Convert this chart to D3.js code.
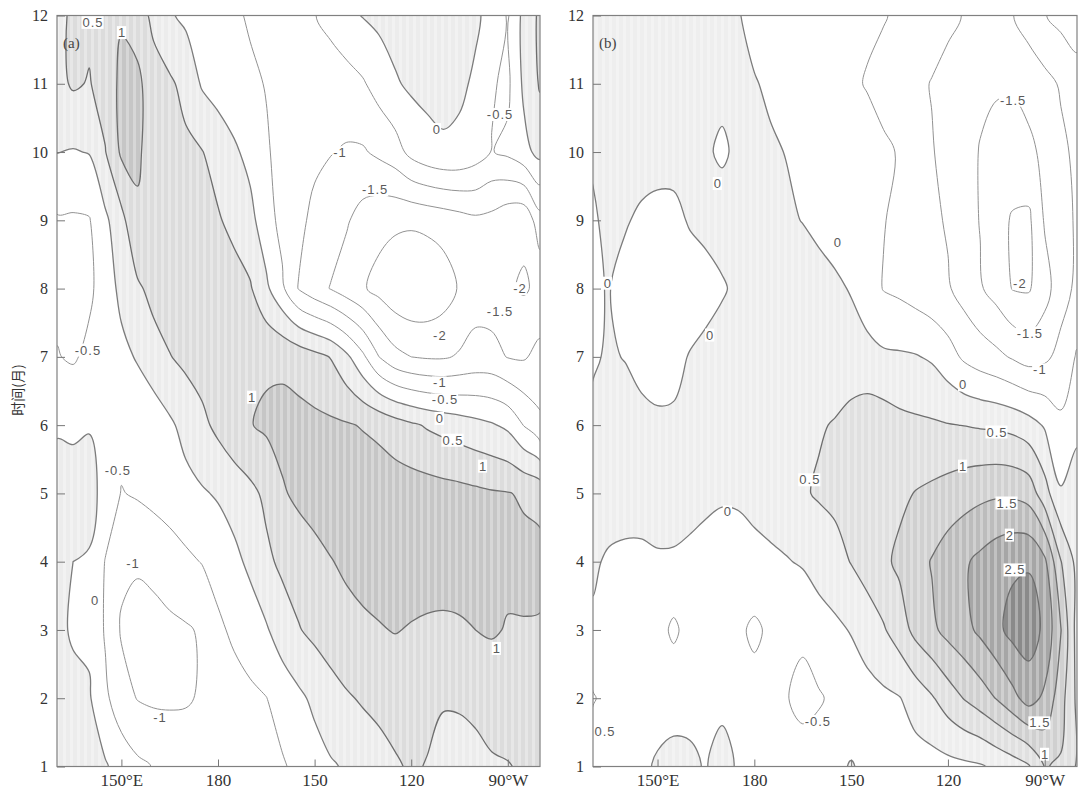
<!DOCTYPE html>
<html lang="zh">
<head>
  <meta charset="UTF-8">
  <title>Hovmoller</title>
  <script src="https://cdn.jsdelivr.net/npm/d3@7"></script>
  <style>
    body { margin: 0; background: #fff; }
    .tick text {
      font-family: "Liberation Serif", "DejaVu Serif", serif;
      font-size: 16px;
      fill: #333;
    }
    .xax .tick text { font-size: 17px; }
    .tick line { stroke: #777; }
    .clab {
      font-family: "Liberation Sans", Arial, sans-serif;
      font-size: 13px;
      letter-spacing: 1px;
      fill: #5a5a5a;
    }
    .tag {
      font-family: "Liberation Serif", "DejaVu Serif", serif;
      font-size: 15px;
      fill: #444;
    }
  </style>
</head>
<body>
<svg id="chart" width="1081" height="792"></svg>
<script>

// grid: longitude 130E..80W every 5 deg, months 1..12
const lons = d3.range(130, 281, 5);
const months = d3.range(1, 13);

const xTickVals = [150, 180, 210, 240, 270];
const xTickText = ['150°E', '180', '150', '120', '90°W'];

// (a) rows are months 1..12, columns are lons
const fieldA = [
  [0.15, 0.2, 0.15, 0.05, -0.2, -0.4, -0.52, -0.62, -0.7, -0.72, -0.72, -0.7, -0.68, -0.62, -0.55, -0.38, -0.2, -0.05, 0.05, 0.2, 0.33, 0.45, 0.55, 0.48, 0.38, 0.3, 0.35, 0.45, 0.48, 0.55, 0.58],
  [0.2, 0.12, 0.05, -0.4, -0.8, -1.02, -1.08, -1.08, -1.05, -0.95, -0.85, -0.72, -0.6, -0.51, -0.3, -0.1, 0.1, 0.3, 0.45, 0.55, 0.62, 0.68, 0.7, 0.6, 0.53, 0.56, 0.62, 0.68, 0.72, 0.75, 0.75],
  [0.1, -0.05, -0.08, -0.55, -1.05, -1.15, -1.15, -1.1, -1.05, -0.95, -0.6, -0.4, -0.25, -0.05, 0.25, 0.47, 0.62, 0.75, 0.85, 0.92, 0.97, 1.02, 0.97, 0.93, 0.92, 0.95, 1.0, 1.05, 0.97, 0.97, 0.95],
  [0.15, 0.0, -0.05, -0.52, -0.9, -0.95, -0.88, -0.75, -0.6, -0.48, -0.3, -0.12, 0.1, 0.4, 0.6, 0.72, 0.85, 0.98, 1.08, 1.15, 1.2, 1.22, 1.22, 1.22, 1.2, 1.18, 1.15, 1.12, 1.1, 1.12, 1.15],
  [0.2, 0.25, 0.2, -0.2, -0.52, -0.45, -0.35, -0.25, -0.15, -0.05, 0.05, 0.2, 0.38, 0.6, 0.95, 1.1, 1.2, 1.25, 1.28, 1.3, 1.3, 1.28, 1.25, 1.22, 1.18, 1.15, 1.1, 1.05, 1.02, 0.95, 0.85],
  [-0.05, -0.1, -0.03, -0.2, -0.35, -0.4, -0.3, -0.08, 0.15, 0.38, 0.62, 0.85, 0.98, 1.08, 1.15, 1.15, 1.12, 1.08, 1.04, 0.97, 0.88, 0.72, 0.58, 0.45, 0.35, 0.25, 0.15, 0.05, -0.1, -0.52, -0.9],
  [-0.48, -0.55, -0.4, -0.3, -0.15, 0.05, 0.3, 0.48, 0.62, 0.72, 0.8, 0.85, 0.9, 0.92, 0.9, 0.8, 0.65, 0.48, 0.1, -0.4, -1.0, -1.35, -1.5, -1.55, -1.55, -1.45, -1.35, -1.35, -1.52, -1.55, -1.35],
  [-0.6, -0.62, -0.58, -0.3, 0.15, 0.42, 0.65, 0.78, 0.85, 0.88, 0.85, 0.72, 0.55, 0.1, -0.42, -1.02, -1.3, -1.52, -1.75, -1.95, -2.15, -2.35, -2.45, -2.42, -2.25, -1.95, -1.7, -1.75, -1.95, -2.05, -1.9],
  [-0.55, -0.56, -0.53, -0.1, 0.35, 0.95, 0.72, 0.8, 0.75, 0.65, 0.55, 0.35, 0.15, -0.3, -0.65, -0.88, -1.12, -1.3, -1.45, -1.7, -1.85, -1.9, -1.92, -1.87, -1.8, -1.7, -1.6, -1.65, -1.85, -1.9, -1.2],
  [0.01, -0.03, 0.02, 0.48, 1.08, 1.05, 0.85, 0.7, 0.6, 0.52, 0.3, 0.08, -0.15, -0.45, -0.65, -0.8, -0.9, -0.98, -1.05, -1.05, -0.9, -0.72, -0.35, -0.15, -0.05, -0.08, -0.25, -0.52, -0.4, -0.15, 0.15],
  [0.35, 0.56, 0.47, 0.7, 1.12, 1.1, 0.75, 0.58, 0.35, -0.05, -0.2, -0.32, -0.42, -0.52, -0.68, -0.8, -0.9, -0.85, -0.7, -0.55, -0.3, -0.05, 0.08, 0.12, 0.1, 0.06, -0.05, -0.45, -0.6, 0.1, 0.55],
  [0.3, 0.62, 0.6, 0.58, 0.95, 0.8, 0.35, 0.05, -0.1, -0.2, -0.32, -0.43, -0.55, -0.65, -0.7, -0.62, -0.52, -0.3, -0.12, 0.02, 0.12, 0.18, 0.2, 0.18, 0.14, 0.1, 0.05, -0.1, -0.55, 0.15, 0.6]
];

// (b)
const fieldB = [
  [-0.1, -0.15, -0.1, -0.05, 0.03, 0.08, 0.05, -0.02, 0.15, -0.05, -0.15, -0.2, -0.25, -0.3, -0.25, -0.1, 0.03, -0.1, -0.12, -0.15, -0.2, -0.2, -0.15, -0.1, -0.05, 0.1, 0.25, 0.45, 1.02, 0.95, 0.45],
  [-0.55, -0.3, -0.2, -0.15, -0.1, -0.1, -0.08, -0.05, -0.1, -0.2, -0.3, -0.38, -0.48, -0.62, -0.55, -0.4, -0.3, -0.2, -0.1, -0.02, 0.2, 0.45, 0.75, 1.02, 1.25, 1.52, 1.85, 2.2, 1.9, 1.2, 0.4],
  [-0.05, -0.15, -0.2, -0.22, -0.3, -0.6, -0.3, -0.3, -0.35, -0.4, -0.6, -0.4, -0.38, -0.42, -0.2, -0.1, 0.03, 0.25, 0.45, 0.75, 1.15, 1.4, 1.65, 1.85, 2.1, 2.38, 2.65, 2.75, 2.4, 1.52, 0.3],
  [0.05, -0.05, -0.1, -0.1, -0.05, -0.05, -0.08, -0.1, -0.12, -0.12, -0.1, -0.08, -0.03, 0.05, 0.18, 0.32, 0.52, 0.7, 0.9, 1.1, 1.3, 1.53, 1.75, 1.93, 2.12, 2.3, 2.42, 2.45, 2.1, 1.02, 0.35],
  [0.15, 0.18, 0.2, 0.2, 0.2, 0.18, 0.12, 0.06, 0.03, 0.04, 0.1, 0.2, 0.32, 0.45, 0.55, 0.62, 0.68, 0.74, 0.82, 0.9, 1.02, 1.1, 1.2, 1.3, 1.38, 1.43, 1.42, 1.3, 0.7, 0.05, 0.1],
  [0.1, 0.2, 0.22, 0.18, 0.1, 0.08, 0.12, 0.18, 0.22, 0.26, 0.3, 0.34, 0.38, 0.42, 0.46, 0.53, 0.68, 0.8, 0.75, 0.64, 0.59, 0.56, 0.52, 0.49, 0.45, 0.42, 0.35, 0.2, -0.05, -0.4, -0.05],
  [-0.05, 0.05, -0.02, -0.2, -0.25, -0.15, 0.03, 0.15, 0.22, 0.25, 0.28, 0.3, 0.3, 0.3, 0.28, 0.25, 0.2, 0.15, 0.08, 0.06, 0.03, -0.06, -0.3, -0.58, -0.75, -0.88, -1.05, -1.2, -1.1, -0.85, -0.45],
  [-0.05, 0.02, -0.2, -0.3, -0.35, -0.35, -0.3, -0.2, -0.05, 0.1, 0.2, 0.25, 0.25, 0.2, 0.15, 0.08, -0.03, -0.25, -0.52, -0.6, -0.72, -0.85, -0.95, -1.2, -1.45, -1.7, -2.02, -2.05, -1.7, -1.2, -0.9],
  [-0.05, 0.1, 0.05, -0.1, -0.2, -0.15, 0.05, 0.15, 0.2, 0.2, 0.15, 0.1, 0.05, -0.01, -0.1, -0.2, -0.3, -0.4, -0.48, -0.6, -0.75, -0.9, -1.05, -1.3, -1.52, -1.8, -2.05, -2.1, -1.45, -1.15, -0.95],
  [0.05, 0.2, 0.25, 0.25, 0.25, 0.2, 0.15, 0.05, -0.06, 0.08, 0.08, 0.04, -0.01, -0.07, -0.15, -0.22, -0.3, -0.37, -0.45, -0.52, -0.75, -0.97, -1.15, -1.35, -1.52, -1.65, -1.7, -1.6, -1.4, -1.1, -0.9],
  [0.15, 0.2, 0.2, 0.2, 0.2, 0.2, 0.15, 0.1, 0.1, 0.05, 0.02, -0.05, -0.15, -0.25, -0.3, -0.38, -0.45, -0.52, -0.6, -0.75, -0.9, -1.02, -1.15, -1.3, -1.42, -1.45, -1.45, -1.35, -1.15, -0.95, -0.75],
  [0.25, 0.2, 0.1, 0.15, 0.25, 0.25, 0.2, 0.15, 0.08, 0.02, -0.1, -0.18, -0.25, -0.3, -0.35, -0.38, -0.42, -0.45, -0.48, -0.55, -0.7, -0.8, -0.9, -1.02, -1.1, -1.1, -1.02, -0.75, -0.52, -0.35, -0.2]
];

const levelsA = [-2, -1.5, -1, -0.5, 0, 0.5, 1];
const shadeA = [0, 0.5, 1];
const shadeColorsA = ['#ececec', '#dcdcdc', '#c6c6c6'];

const levelsB = [-2, -1.5, -1, -0.5, 0, 0.5, 1, 1.5, 2, 2.5];
const shadeB = [0, 0.5, 1, 1.5, 2, 2.5];
const shadeColorsB = ['#eeeeee', '#e0e0e0', '#d0d0d0', '#bcbcbc', '#a6a6a6', '#8a8a8a'];

// contour labels: [lon, month, text]
const labelsA = [
  [141.2, 11.9, '0.5'], [150.2, 11.75, '1'], [248, 10.33, '0'], [267.6, 10.55, '-0.5'],
  [217.9, 9.99, '-1'], [228.8, 9.45, '-1.5'], [248.9, 7.32, '-2'], [273.8, 8.0, '-2'],
  [267.6, 7.66, '-1.5'], [248.9, 6.62, '-1'], [250.5, 6.37, '-0.5'], [248.9, 6.1, '0'],
  [253, 5.78, '0.5'], [262.3, 5.4, '1'], [190.6, 6.41, '1'], [139.6, 7.1, '-0.5'],
  [148.9, 5.34, '-0.5'], [153.6, 3.98, '-1'], [141.8, 3.43, '0'], [162, 1.72, '-1'],
  [266.6, 2.73, '1']
];
const labelsB = [
  [260.2, 10.76, '-1.5'], [168.7, 9.54, '0'], [134.6, 8.08, '0'], [205.9, 8.67, '0'],
  [166.3, 7.32, '0'], [262.3, 8.08, '-2'], [265.4, 7.35, '-1.5'], [268.5, 6.81, '-1'],
  [244.7, 6.59, '0'], [255.2, 5.9, '0.5'], [197.2, 5.2, '0.5'], [171.8, 4.73, '0'],
  [244.7, 5.4, '1'], [258.3, 4.86, '1.5'], [259.2, 4.39, '2'], [260.8, 3.88, '2.5'],
  [268.5, 1.64, '1.5'], [270.1, 1.18, '1'], [199.7, 1.66, '-0.5'], [133.7, 1.51, '0.5']
];

const svg = d3.select('#chart');
const defs = svg.append('defs');

// faint vertical banding seen in the shaded areas
const pat = defs.append('pattern')
    .attr('id', 'stripes')
    .attr('patternUnits', 'userSpaceOnUse')
    .attr('width', 7)
    .attr('height', 10);
pat.append('rect')
    .attr('width', 3)
    .attr('height', 10)
    .attr('fill', '#fff')
    .attr('opacity', 0.3);

const plotTop = 15.5, plotBottom = 766.5;

function drawPanel(id, x0, x1, field, levels, shade, shadeColors, labels, tag) {
  const xScale = d3.scaleLinear().domain([130, 280]).range([x0, x1]);
  const yScale = d3.scaleLinear().domain([1, 12]).range([plotBottom, plotTop]);
  const g = svg.append('g');

  defs.append('clipPath').attr('id', 'clip-' + id)
    .append('rect')
    .attr('x', x0).attr('y', plotTop)
    .attr('width', x1 - x0).attr('height', plotBottom - plotTop);

  const plot = g.append('g').attr('clip-path', 'url(#clip-' + id + ')');

  const values = field.flat();
  const gen = d3.contours().size([lons.length, months.length]);
  // grid coordinate c maps to sample index c - 0.5
  const line = d3.line()
      .x(function(p) { return xScale(lons[0] + (p[0] - 0.5) * 5); })
      .y(function(p) { return yScale(months[0] + (p[1] - 0.5)); })
      .curve(d3.curveCatmullRomClosed.alpha(0.5));
  function toPath(geom) {
    return geom.coordinates.map(function(poly) {
      return poly.map(function(ring) { return line(ring.slice(0, -1)); }).join('');
    }).join('');
  }

  plot.append('rect')
      .attr('x', x0).attr('y', plotTop)
      .attr('width', x1 - x0).attr('height', plotBottom - plotTop)
      .attr('fill', '#fff');

  shade.forEach(function(t, i) {
    plot.append('path')
        .attr('d', toPath(gen.contour(values, t)))
        .attr('fill', shadeColors[i])
        .attr('fill-rule', 'evenodd');
  });

  plot.append('rect')
      .attr('x', x0).attr('y', plotTop)
      .attr('width', x1 - x0).attr('height', plotBottom - plotTop)
      .attr('fill', 'url(#stripes)');

  levels.forEach(function(t) {
    plot.append('path')
        .attr('d', toPath(gen.contour(values, t)))
        .attr('fill', 'none')
        .attr('stroke', t > 0 ? '#6e6e6e' : (t === 0 ? '#7c7c7c' : '#929292'))
        .attr('stroke-width', t >= 0 ? 1.3 : 1);
  });

  // contour labels on white boxes
  labels.forEach(function(d) {
    const lg = plot.append('g')
        .attr('transform', 'translate(' + xScale(d[0]) + ',' + yScale(d[1]) + ')');
    const box = lg.append('rect').attr('fill', '#fff');
    const txt = lg.append('text')
        .attr('class', 'clab')
        .attr('text-anchor', 'middle')
        .attr('dy', '0.35em')
        .text(d[2]);
    const bb = txt.node().getBBox();
    box.attr('x', bb.x - 1).attr('y', bb.y + 1)
       .attr('width', bb.width + 1).attr('height', bb.height - 2);
  });

  g.append('rect')
      .attr('x', x0).attr('y', plotTop)
      .attr('width', x1 - x0).attr('height', plotBottom - plotTop)
      .attr('fill', 'none')
      .attr('stroke', '#808080')
      .attr('stroke-width', 1.2);

  const yAxis = d3.axisLeft(yScale)
      .tickValues(months)
      .tickSize(-8)
      .tickPadding(9)
      .tickFormat(d3.format('d'));
  g.append('g')
      .attr('transform', 'translate(' + x0 + ',0)')
      .call(yAxis)
      .call(function(a) { a.select('.domain').remove(); });

  const xAxis = d3.axisBottom(xScale)
      .tickValues(xTickVals)
      .tickSize(-7)
      .tickPadding(7)
      .tickFormat(function(d, i) { return xTickText[i]; });
  g.append('g')
      .attr('class', 'xax')
      .attr('transform', 'translate(0,' + plotBottom + ')')
      .call(xAxis)
      .call(function(a) { a.select('.domain').remove(); });

  g.append('text')
      .attr('class', 'tag')
      .attr('x', x0 + 6)
      .attr('y', 48)
      .text(tag);
}

drawPanel('a', 57, 540, fieldA, levelsA, shadeA, shadeColorsA, labelsA, '(a)');
drawPanel('b', 593, 1077, fieldB, levelsB, shadeB, shadeColorsB, labelsB, '(b)');

svg.append('text')
    .attr('transform', 'translate(23,390) rotate(-90)')
    .attr('text-anchor', 'middle')
    .style('font-family', '"Noto Sans CJK SC", sans-serif')
    .style('font-size', '14px')
    .style('fill', '#333')
    .text('时间(月)');

</script>
</body>
</html>
